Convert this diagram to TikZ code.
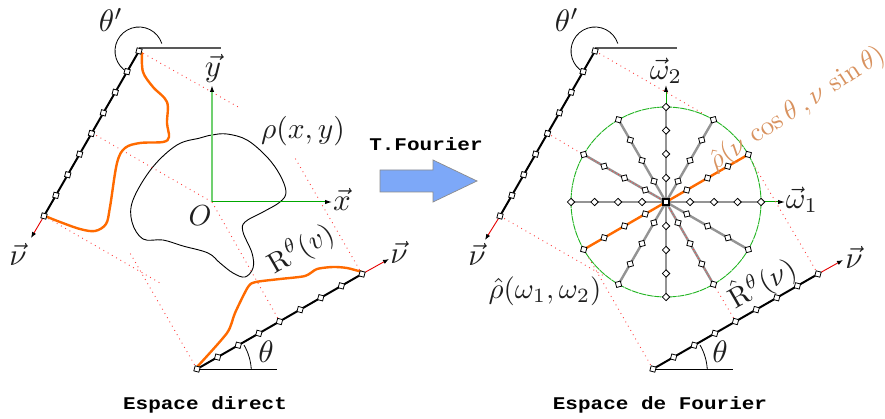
\documentclass[tikz,border=0pt]{standalone}
\usepackage{amsmath}
\usepackage{fontspec}
\setmonofont{Liberation Mono}
\usetikzlibrary{calc,arrows.meta}
\newcommand{\lbl}[2][2.75]{\scalebox{#1}{$#2$}}
\newcommand{\ttl}[1]{\scalebox{1}[0.85]{\fontsize{21}{24}\selectfont\ttfamily\bfseries #1}}
\definecolor{orng}{HTML}{FF6A00}
\definecolor{grn}{HTML}{00A800}
\definecolor{lgrn}{HTML}{70D070}
\definecolor{circ}{HTML}{22B422}
\definecolor{peach}{HTML}{D8925F}
\definecolor{bluef}{HTML}{7DA8F8}
\tikzset{
 tick/.style={draw=black,fill=white,line width=0.8pt,minimum size=5.2pt,inner sep=0pt,shape=rectangle},
 lab/.style={inner sep=0pt,text=black!88},
 dots/.style={red!75,line width=0.9pt,dash pattern=on 0.9pt off 4pt},
 axisline/.style={black,line width=2pt},
 base/.style={line width=1pt},
 curve/.style={orng,line width=2.4pt,line cap=round,line join=round},
 anglearc/.style={black,line width=0.8pt},
 vecred/.style={red!90!black,line width=0.9pt,-{Latex[black,length=6pt,width=4.5pt]}},
 vecgrn/.style={line width=1pt,-{Latex[black,length=7pt,width=4.5pt]}},
}
\begin{document}
\begin{tikzpicture}[x=1pt,y=-1pt]
\useasboundingbox (0,0) rectangle (885,419);
% ---- left coordinates
\coordinate (LA) at (139,51);
\coordinate (LB) at (44,216);
\coordinate (LN) at (31,238);
\coordinate (LS) at (197,369);
\coordinate (LE) at (362,274);
\coordinate (LM) at (389,259);
\coordinate (LH) at (277,369);
\coordinate (LT) at (221,48);
\coordinate (LO) at (212,202);
\coordinate (LX) at (332,202);
\coordinate (LY) at (212,85);
% blob
\draw[black,line width=0.9pt] plot[smooth cycle,tension=0.6] coordinates {
 (212,135)(227,134)(247,140)(267,157)(280,175)(286,192)(280,202)(263,212)(245,222)(243,232)(252,253)(253,268)(245,277)(233,273)(220,263)(208,253)(183,246)(163,240)(143,239)(132,222)(133,200)(152,168)(177,145)(200,138)};
% dotted left
\draw[dots] (LA) -- (240,108);
\draw[dots] (92,133) -- (LO);
\draw[dots] (LO) -- (280,322);
\draw[dots] (LB) -- (160,283);
\draw[dots] (LS) -- (130,253);
\draw[dots] (LE) -- (295,158);
% axes
\draw[lgrn,line width=2pt,-{Latex[black,length=7pt,width=4.5pt]}] (LO) -- (LY);
\draw[grn,vecgrn] (LO) -- (LX);
\draw[black!65,line width=1.6pt] (LA|-LT) -- (LT);
\draw[black,base] (LS) -- (LH);
\draw[anglearc] ($(LA)+(18:24pt)$) arc[start angle=-18,end angle=-240,radius=24];
\draw[anglearc] (244,345) arc[start angle=-30,end angle=-3,radius=55];
\draw[vecred] (LB) -- (LN);
\draw[vecred] (LE) -- (LM);
\draw[axisline] (LA) -- (LB);
\draw[axisline] (LS) -- (LE);
% orange curves
\draw[curve] plot[smooth,tension=0.55] coordinates {(142,53)(143,72)(153,87)(167,102)(167,123)(169,137)(163,142)(140,143)(125,148)(117,163)(110,207)(106,224)(95,231)(80,229)(60,222)(45,216)};
\draw[curve] plot[smooth,tension=0.45] coordinates {(197,367)(227,333)(235,313)(248,287)(256,282)(280,279)(305,276)(317,269)(333,267)(347,268)(362,272)};
% ticks left
\foreach \i in {0,...,8}{
 \node[tick,rotate=75] (la\i) at ($(LA)!\i/8!(LB)$) {};
 \node[tick,rotate=75] (ls\i) at ($(LS)!\i/8!(LE)$) {};
}
% ---- right coordinates
\coordinate (RA) at (595,51);
\coordinate (RB) at (500,216);
\coordinate (RN) at (485,240);
\coordinate (RS) at (653,369);
\coordinate (RE) at (818,274);
\coordinate (RM) at (843,260);
\coordinate (RH) at (733,369);
\coordinate (RT) at (677,48);
\coordinate (RO) at (666,202);
\coordinate (RX) at (785,202);
\coordinate (RY) at (666,85);
% axes and circle
\draw[grn,vecgrn] (RO) -- (RX);
\draw[grn,vecgrn] (RO) -- (RY);
\draw[dots] (RA) -- (702,113);
\draw[dots] (547,133) -- (584,155);
\draw[dots] (RB) -- (604,276);
\draw[dots] (RS) -- (586,253);
\draw[dots] (RE) -- (751,160);
\draw[circ,line width=0.9pt,dash pattern=on 7pt off 0.7pt] (RO) circle[radius=95];
% spokes
\foreach \a in {0,60,90,120,150,180,240,270,300,330}{
 \pgfmathsetmacro{\w}{(mod(\a,90)==0)?2.8:2.4}
 \draw[black!42,line width=\w pt] (RO) -- ++(-\a:95);
}
\draw[orng,line width=2.4pt] ($(RO)+(-30:95)$) -- ($(RO)+(-210:95)$);
\draw[dots,dash pattern=on 0.9pt off 2.5pt] (RO) -- ++(-150:95);
\draw[dots,dash pattern=on 0.9pt off 2.5pt] (RO) -- ++(60:95);
\draw[dots] (736,322) -- ($(RO)+(60:95)$);
\draw[black!65,line width=1.6pt] (RA|-RT) -- (RT);
\draw[black,base] (RS) -- (RH);
\draw[anglearc] ($(RA)+(18:24pt)$) arc[start angle=-18,end angle=-240,radius=24];
\draw[anglearc] (700,345) arc[start angle=-30,end angle=-3,radius=55];
\draw[vecred] (RB) -- (RN);
\draw[vecred] (RE) -- (RM);
\draw[axisline] (RA) -- (RB);
\draw[axisline] (RS) -- (RE);
\foreach \i in {0,...,8}{
 \node[tick,rotate=75] (ra\i) at ($(RA)!\i/8!(RB)$) {};
 \node[tick,rotate=75] (rs\i) at ($(RS)!\i/8!(RE)$) {};
}
\foreach \a in {0,30,...,330}{
 \foreach \r in {24,48,71.5,95}{
  \pgfmathsetmacro{\rt}{45+\a}
  \node[tick,rotate=\rt] at ($(RO)+(-\a:\r)$) {};
 }
}
\node[tick,minimum size=6pt,line width=1.3pt] (rc) at (RO) {};
% big arrow
\draw[fill=bluef,draw=black!45,line width=0.7pt] (380,170) -- (433,170) -- (433,160) -- (477,181) -- (433,202) -- (433,192) -- (380,192) -- cycle;
% labels left
\node[lab] (t1) at (111,20) {\lbl[3.1]{\theta'}};
\node[lab] (t2) at (213,68) {\lbl[3.1]{\vec{y}}};
\node[lab] (t3) at (342,199) {\lbl[3.1]{\vec{x}}};
\node[lab] (t4) at (200,216) {\lbl[2.9]{O}};
\node[lab] (t5) at (303,131) {\lbl[2.95]{\rho(x,y)}};
\node[lab,rotate=30] (t6) at (301,249) {\lbl[2.85]{\mathrm{R}^{\theta}(v)}};
\node[lab] (t7) at (18,254) {\lbl[3.1]{\vec{\nu}}};
\node[lab] (t8) at (399,252) {\lbl[3.1]{\vec{\nu}}};
\node[lab] (t9) at (266,352) {\lbl[3.1]{\theta}};
% labels right
\node[lab] (u1) at (567,20) {\lbl[3.1]{\theta'}};
\node[lab] (u2) at (666,71) {\lbl[3]{\vec{\omega}_2}};
\node[lab] (u3) at (802,200) {\lbl[3]{\vec{\omega}_1}};
\node[lab] (u4) at (477,254) {\lbl[3.1]{\vec{\nu}}};
\node[lab] (u5) at (854,257) {\lbl[3.1]{\vec{\nu}}};
\node[lab] (u6) at (545,291) {\lbl[2.9]{\hat{\rho}(\omega_1,\omega_2)}};
\node[lab,rotate=30] (u7) at (762,283) {\lbl[2.85]{\hat{\mathrm{R}}^{\theta}(\nu)}};
\node[lab] (u8) at (720,352) {\lbl[3.1]{\theta}};
\node[lab,text=peach,rotate=33] (u9) at (797,109) {\lbl[2.7]{\hat{\rho}(\nu\,\cos\theta\,,\nu\,\sin\theta)}};
% titles
\node[inner sep=0pt] (c1) at (426,144) {\ttl{T.Fourier}};
\node[inner sep=0pt] (c2) at (205,405) {\ttl{Espace direct}};
\node[inner sep=0pt] (c3) at (660,405) {\ttl{Espace de Fourier}};
\end{tikzpicture}
\end{document}
